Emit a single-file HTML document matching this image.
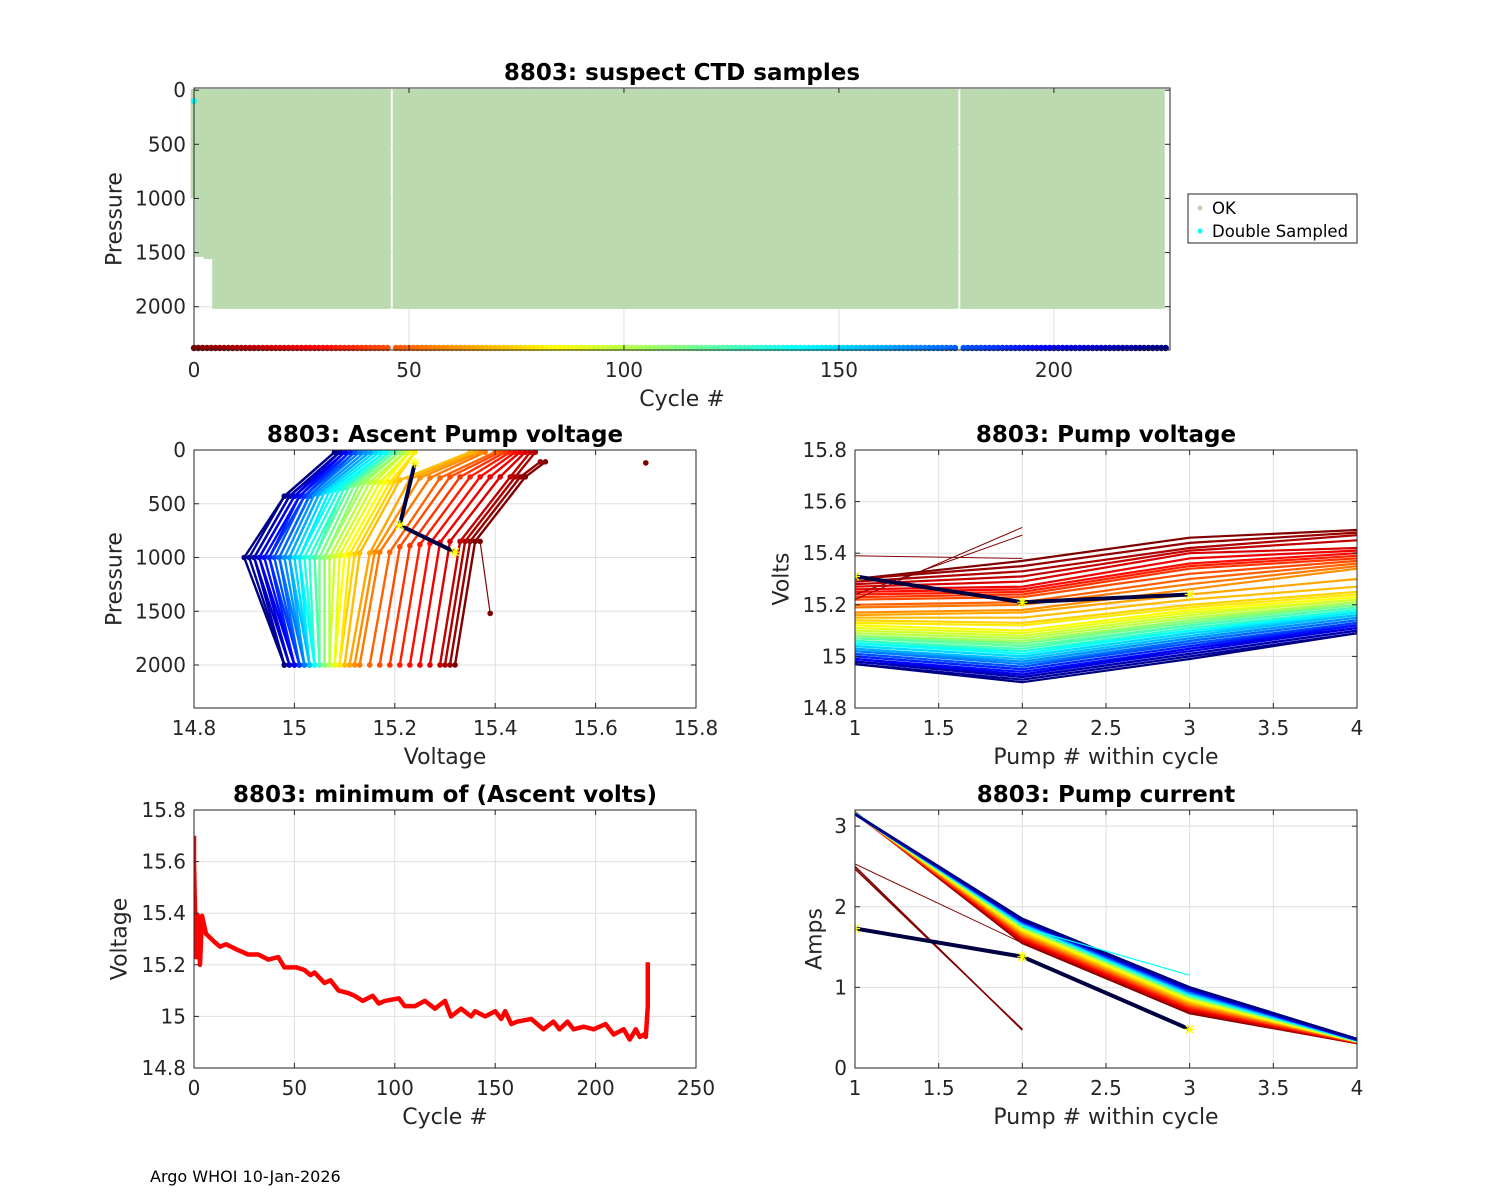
<!DOCTYPE html>
<html><head><meta charset="utf-8"><title>8803 pump diagnostics</title>
<style>
html,body{margin:0;padding:0;background:#fff;}
svg{display:block;font-family:"DejaVu Sans","Liberation Sans",sans-serif;}
</style></head>
<body>
<svg id="fig" width="1500" height="1200" viewBox="0 0 1500 1200" xmlns="http://www.w3.org/2000/svg">
<rect x="0" y="0" width="1500" height="1200" fill="#fff"/>
<defs>
<clipPath id="c1"><rect x="190" y="86" width="980" height="264"/></clipPath>
<clipPath id="c2"><rect x="194" y="450" width="502" height="258"/></clipPath>
<clipPath id="c3"><rect x="855" y="450" width="502" height="258"/></clipPath>
<clipPath id="c4"><rect x="194" y="810" width="502" height="258"/></clipPath>
<clipPath id="c5"><rect x="855" y="810" width="502" height="258"/></clipPath>
</defs>
<text x="150" y="1182" font-size="16" fill="#000">Argo WHOI 10-Jan-2026</text>
<g>
<rect x="1188" y="194" width="169" height="49" fill="#fff" stroke="#262626" stroke-width="1"/>
<circle cx="1200" cy="208" r="2.5" fill="rgb(188,218,176)"/>
<text x="1212" y="214" font-size="16.5" fill="#000">OK</text>
<circle cx="1200" cy="231" r="2.5" fill="#00ffff"/>
<text x="1212" y="237" font-size="16.5" fill="#000">Double Sampled</text>
</g>
</svg>
<script>
// ---------- DATA ----------
const totalCycles = 226;
const missingCycles = [46, 178];
const profileDepthCycles = [0, 1, 2, 3, 4];
const profileDepthValues = [1000, 1540, 1540, 1560, 1560];
const fullDepth = 2020;
const doubleSampledCycle = [0];
const doubleSampledPres = [100];

const sampleCycles = [0,5,10,15,20,25,30,35,40,45,50,55,60,65,70,75,80,85,90,95,100,105,110,115,120,125,130,135,140,145,150,155,160,165,170,175,180,185,190,195,200,205,210,215,220,225];
const asc_v2000 = [15.32,15.31,15.30,15.29,15.27,15.25,15.23,15.21,15.19,15.17, 15.15,15.13,15.12,15.11,15.10,15.09,15.09,15.08,15.08,15.07, 15.07,15.06,15.06,15.05,15.05,15.05,15.04,15.04,15.04,15.03, 15.03,15.03,15.02,15.02,15.02,15.01,15.01,15.01,15.00,15.00, 15.00,14.99,14.99,14.98,14.98,14.98];
const asc_vDeep = [15.36,15.35,15.34,15.33,15.31,15.29,15.27,15.25,15.23,15.21, 15.19,15.17,15.16,15.15,15.13,15.12,15.11,15.10,15.09,15.08, 15.07,15.06,15.06,15.05,15.04,15.04,15.03,15.02,15.01,15.01, 15.00,14.99,14.99,14.98,14.97,14.97,14.96,14.95,14.95,14.94, 14.93,14.93,14.92,14.92,14.91,14.90];
const asc_pDeep = [850,850,850,850,850,860,870,880,890,900, 950,950,950,960,960,970,970,980,980,990, 1000,1000,1000,1000,1000,1000,1000,1000,1000,1000, 1000,1000,1000,1000,1000,1000,1000,1000,1000,1000, 1000,1000,1000,1000,1000,1000];
const asc_vShallow = [15.46,15.45,15.44,15.43,15.41,15.39,15.37,15.35,15.33,15.31, 15.29,15.27,15.25,15.23,15.21,15.20,15.19,15.18,15.17,15.16, 15.15,15.14,15.13,15.12,15.11,15.10,15.10,15.09,15.08,15.07, 15.06,15.05,15.05,15.04,15.03,15.03,15.02,15.02,15.01,15.01, 15.00,15.00,14.99,14.99,14.98,14.98];
const asc_pShallow = [250,250,250,250,250,250,250,250,250,250, 260,260,260,270,280,290,300,300,300,300, 300,300,310,320,330,340,350,360,370,380, 390,400,400,410,420,430,430,430,430,430, 430,430,430,430,430,430];
const asc_vSurf = [15.50,15.49,15.48,15.47,15.46,15.45,15.44,15.43,15.42,15.41, 15.40,15.38,15.37,15.36,15.35,15.24,15.24,15.23,15.23,15.22, 15.22,15.21,15.21,15.20,15.20,15.19,15.19,15.18,15.18,15.17, 15.16,15.15,15.15,15.14,15.13,15.12,15.12,15.11,15.11,15.10, 15.10,15.09,15.09,15.09,15.08,15.08];
const asc_pSurf = [110,110,20,20,20,20,20,20,20,20, 20,20,20,20,20,20,20,20,20,20, 20,20,20,20,20,20,20,20,20,20, 20,20,20,20,20,20,20,20,20,20, 20,20,20,20,20,20];
const ascLastV = [15.24, 15.21, 15.32];
const ascLastP = [120, 700, 950];
const ascOddV = [15.37, 15.39];
const ascOddP = [850, 1520];
const ascOutlierV = [15.70];
const ascOutlierP = [120];

const pv1 = [15.30,15.30,15.29,15.28,15.27,15.26,15.25,15.24,15.23,15.22, 15.20,15.19,15.17,15.16,15.15,15.14,15.13,15.12,15.11,15.10, 15.09,15.08,15.08,15.07,15.07,15.06,15.06,15.05,15.05,15.04, 15.04,15.03,15.03,15.02,15.02,15.01,15.01,15.00,15.00,14.99, 14.99,14.98,14.98,14.98,14.97,14.97];
const pv2 = [15.37,15.35,15.33,15.31,15.29,15.27,15.26,15.25,15.24,15.23, 15.21,15.20,15.18,15.17,15.15,15.13,15.12,15.10,15.09,15.08, 15.07,15.06,15.05,15.05,15.04,15.03,15.02,15.02,15.01,15.00, 15.00,14.99,14.98,14.98,14.97,14.96,14.96,14.95,14.95,14.94, 14.93,14.93,14.92,14.92,14.91,14.90];
const pv3 = [15.46,15.44,15.42,15.41,15.40,15.38,15.36,15.35,15.34,15.32, 15.30,15.28,15.26,15.24,15.22,15.20,15.19,15.18,15.17,15.16, 15.15,15.14,15.14,15.13,15.12,15.12,15.11,15.10,15.10,15.09, 15.09,15.08,15.07,15.07,15.06,15.06,15.05,15.04,15.04,15.03, 15.03,15.02,15.01,15.01,15.00,14.99];
const pv4 = [15.49,15.48,15.47,15.45,15.42,15.41,15.40,15.39,15.38,15.37, 15.36,15.35,15.34,15.30,15.27,15.25,15.24,15.23,15.22,15.22, 15.21,15.21,15.20,15.20,15.19,15.19,15.18,15.18,15.17,15.17, 15.16,15.16,15.15,15.15,15.14,15.14,15.13,15.13,15.12,15.12, 15.11,15.11,15.10,15.10,15.09,15.09];
const pvLast = [15.31, 15.21, 15.24];
const pvEarlyA = [15.39, 15.38];
const pvEarlyB = [15.22, 15.50];
const pvEarlyC = [15.24, 15.47];

const pc1 = [3.17,3.17,3.17,3.17,3.16,3.16,3.16,3.16,3.16,3.16, 3.16,3.16,3.16,3.16,3.16,3.16,3.16,3.16,3.16,3.16, 3.16,3.16,3.16,3.16,3.16,3.16,3.15,3.15,3.15,3.15, 3.15,3.15,3.15,3.15,3.15,3.15,3.15,3.15,3.15,3.15, 3.15,3.15,3.15,3.15,3.15,3.15];
const pc2 = [1.55,1.56,1.57,1.58,1.59,1.60,1.61,1.62,1.63,1.64, 1.65,1.66,1.67,1.68,1.69,1.70,1.71,1.72,1.73,1.74, 1.75,1.75,1.76,1.76,1.77,1.77,1.78,1.78,1.79,1.79, 1.80,1.80,1.80,1.81,1.81,1.81,1.82,1.82,1.82,1.83, 1.83,1.83,1.84,1.84,1.84,1.85];
const pc3 = [0.68,0.69,0.70,0.71,0.72,0.73,0.74,0.75,0.76,0.77, 0.78,0.79,0.80,0.81,0.82,0.83,0.84,0.85,0.86,0.87, 0.88,0.88,0.89,0.89,0.90,0.90,0.91,0.91,0.92,0.92, 0.93,0.93,0.94,0.94,0.95,0.95,0.96,0.96,0.97,0.97, 0.98,0.98,0.99,0.99,1.00,1.00];
const pc4 = [0.31,0.31,0.31,0.31,0.32,0.32,0.32,0.32,0.32,0.32, 0.33,0.33,0.33,0.33,0.33,0.33,0.33,0.33,0.33,0.33, 0.34,0.34,0.34,0.34,0.34,0.34,0.34,0.34,0.34,0.34, 0.35,0.35,0.35,0.35,0.35,0.35,0.35,0.35,0.35,0.35, 0.35,0.35,0.36,0.36,0.36,0.36];
const pcLast = [1.73, 1.38, 0.48];
const pcEarlyA = [2.50, 0.47];
const pcEarlyB = [2.47, 0.48];
const pcEarlyC = [2.53, 1.55, 0.72];
const pcOddCyan = [1.75, 1.15];

const minCycles = [0,0,1,2,3,4,6,10,13,16, 21,27,32,37,42,45,51,55,58,60, 65,68,72,77,80,84,89,92,95,102, 105,110,115,120,125,128,133,138,140,145, 150,153,155,158,161,168,174,179,182,186, 189,194,199,205,209,214,217,220,222,224, 225,226,226];
const minVolts = [15.70,15.60,15.23,15.39,15.20,15.39,15.32,15.29,15.27,15.28, 15.26,15.24,15.24,15.22,15.23,15.19,15.19,15.18,15.16,15.17, 15.13,15.14,15.10,15.09,15.08,15.06,15.08,15.05,15.06,15.07, 15.04,15.04,15.06,15.03,15.06,15.00,15.03,15.00,15.02,15.00, 15.02,14.99,15.02,14.97,14.98,14.99,14.95,14.98,14.95,14.98, 14.95,14.96,14.95,14.97,14.93,14.95,14.91,14.95,14.92,14.93, 14.92,15.04,15.21];

const topXTicks = [0,50,100,150,200];
const presTicks = [0,500,1000,1500,2000];
const voltXTicks = [14.8,15,15.2,15.4,15.6,15.8];
const voltXLabels = ['14.8','15','15.2','15.4','15.6','15.8'];
const pumpXTicks = [1,1.5,2,2.5,3,3.5,4];
const pumpXLabels = ['1','1.5','2','2.5','3','3.5','4'];
const voltYTicks = [14.8,15,15.2,15.4,15.6,15.8];
const cycXTicks = [0,50,100,150,200,250];
const ampTicks = [0,1,2,3];

// ---------- HELPERS ----------
const NS = 'http://www.w3.org/2000/svg';
const svg = document.getElementById('fig');
function mk(tag, attrs, parent) {
  const e = document.createElementNS(NS, tag);
  for (const k in attrs) e.setAttribute(k, attrs[k]);
  (parent || svg).appendChild(e);
  return e;
}
function jet(t) {
  const cl = v => Math.max(0, Math.min(1, v));
  const r = cl(1.5 - Math.abs(4 * t - 3)), g = cl(1.5 - Math.abs(4 * t - 2)), b = cl(1.5 - Math.abs(4 * t - 1));
  return 'rgb(' + Math.round(r * 255) + ',' + Math.round(g * 255) + ',' + Math.round(b * 255) + ')';
}
function cycColor(c) { return jet(1 - c / totalCycles); }
function makeAxis(x0, x1, y0, y1, xmin, xmax, ymin, ymax, yrev) {
  return {
    x0, x1, y0, y1,
    sx: v => x0 + (v - xmin) / (xmax - xmin) * (x1 - x0),
    sy: v => yrev ? y0 + (v - ymin) / (ymax - ymin) * (y1 - y0) : y1 - (v - ymin) / (ymax - ymin) * (y1 - y0)
  };
}
function drawFrame(ax, xt, xl, yt, yl, grp) {
  for (const v of xt) {
    const x = ax.sx(v);
    const gl = mk('line', {x1: x, x2: x, y1: ax.y0, y2: ax.y1, stroke: '#dfdfdf', 'stroke-width': 1}, grp);
    
    
  }
  for (const v of yt) {
    const y = ax.sy(v);
    const gl = mk('line', {x1: ax.x0, x2: ax.x1, y1: y, y2: y, stroke: '#dfdfdf', 'stroke-width': 1}, grp);
    
    
  }
}
function drawBox(ax, xt, xl, yt, yl, title, xlab, ylab, ylabX, prefix) {
  const g = mk('g', {});
  
  
  const box = mk('rect', {x: ax.x0, y: ax.y0, width: ax.x1 - ax.x0, height: ax.y1 - ax.y0, fill: 'none', stroke: '#262626', 'stroke-width': 1}, g);
  
  
  xt.forEach((v, i) => {
    const x = ax.sx(v);
    mk('line', {x1: x, x2: x, y1: ax.y1, y2: ax.y1 - 5, stroke: '#262626'}, g);
    mk('line', {x1: x, x2: x, y1: ax.y0, y2: ax.y0 + 5, stroke: '#262626'}, g);
    const t = mk('text', {x: x, y: ax.y1 + 27, 'font-size': 20, fill: '#262626', 'text-anchor': 'middle'}, g);
    t.textContent = xl[i];
    
    
  });
  yt.forEach((v, i) => {
    const y = ax.sy(v);
    mk('line', {x1: ax.x0, x2: ax.x0 + 5, y1: y, y2: y, stroke: '#262626'}, g);
    mk('line', {x1: ax.x1, x2: ax.x1 - 5, y1: y, y2: y, stroke: '#262626'}, g);
    const t = mk('text', {x: ax.x0 - 8, y: y + 7, 'font-size': 20, fill: '#262626', 'text-anchor': 'end'}, g);
    t.textContent = yl[i];
    
    
  });
  const tt = mk('text', {x: (ax.x0 + ax.x1) / 2, y: ax.y0 - 8, 'font-size': 23, 'font-weight': 'bold', fill: '#000', 'text-anchor': 'middle'}, g);
  tt.textContent = title;
  
  
  const xlt = mk('text', {x: (ax.x0 + ax.x1) / 2, y: ax.y1 + 56, 'font-size': 22, fill: '#262626', 'text-anchor': 'middle'}, g);
  xlt.textContent = xlab;
  
  
  const cy = (ax.y0 + ax.y1) / 2;
  const ylt = mk('text', {x: ylabX, y: cy, 'font-size': 22, fill: '#262626', 'text-anchor': 'middle', transform: 'rotate(-90 ' + ylabX + ' ' + cy + ')', dy: '0.35em'}, g);
  ylt.textContent = ylab;
  
  
}
function poly(pts, attrs, grp, name) {
  const p = mk('polyline', Object.assign({points: pts.map(p => p[0].toFixed(1) + ',' + p[1].toFixed(1)).join(' '), fill: 'none', 'stroke-linejoin': 'round'}, attrs), grp);
  
  
  return p;
}
function star(x, y, grp) {
  const s = mk('path', {d: 'M' + (x - 5) + ' ' + y + 'h10M' + x + ' ' + (y - 5) + 'v10M' + (x - 4) + ' ' + (y - 4) + 'l8 8M' + (x - 4) + ' ' + (y + 4) + 'l8 -8', stroke: '#ffff00', 'stroke-width': 1.3, fill: 'none'}, grp);
  
  
}

// ---------- PANEL 1 ----------
const A1 = makeAxis(194, 1170, 88, 350, 0, 227, -20, 2400, true);
const g1 = mk('g', {'clip-path': 'url(#c1)'});


drawFrame(A1, topXTicks, null, presTicks, null, g1);
const half1 = (A1.sx(1) - A1.sx(0)) / 2;
for (let c = totalCycles - 1; c >= 0; c--) {
  if (missingCycles.includes(c)) continue;
  const k = profileDepthCycles.indexOf(c);
  const depth = k >= 0 ? profileDepthValues[k] : fullDepth;
  const r = mk('rect', {x: A1.sx(c) - half1 - 1.2, y: A1.sy(-10), width: 2 * half1 + 2.4, height: A1.sy(depth) - A1.sy(-10), fill: 'rgb(188,218,176)'}, g1);
  
  
}
doubleSampledCycle.forEach((c, i) => {
  const d = mk('circle', {cx: A1.sx(c), cy: A1.sy(doubleSampledPres[i]), r: 3, fill: '#00ffff'}, g1);
  
  
});
for (let c = 0; c <= totalCycles; c++) {
  if (missingCycles.includes(c)) continue;
  const d = mk('circle', {cx: A1.sx(c), cy: 348, r: 3.2, fill: cycColor(c)}, svg);
  
  
}
drawBox(A1, topXTicks, topXTicks.map(String), presTicks, presTicks.map(String), '8803: suspect CTD samples', 'Cycle #', 'Pressure', 114, 'ctd');

// ---------- PANEL 2 ----------
const A2 = makeAxis(194, 696, 450, 708, 14.8, 15.8, 0, 2400, true);
const g2 = mk('g', {'clip-path': 'url(#c2)'});


drawFrame(A2, voltXTicks, null, presTicks, null, g2);
sampleCycles.forEach((c, i) => {
  const col = cycColor(c);
  const pts = [[A2.sx(asc_v2000[i]), A2.sy(2000)], [A2.sx(asc_vDeep[i]), A2.sy(asc_pDeep[i])], [A2.sx(asc_vShallow[i]), A2.sy(asc_pShallow[i])], [A2.sx(asc_vSurf[i]), A2.sy(asc_pSurf[i])]];
  poly(pts, {stroke: col, 'stroke-width': 2.4}, g2, 'ascent-profile-line');
  pts.forEach(p => {
    const d = mk('circle', {cx: p[0], cy: p[1], r: 2.8, fill: col}, g2);
    
    
  });
});
poly(ascOddV.map((v, i) => [A2.sx(v), A2.sy(ascOddP[i])]), {stroke: '#800000', 'stroke-width': 1.2}, g2, 'ascent-odd-line');
ascOddV.forEach((v, i) => { const d = mk('circle', {cx: A2.sx(v), cy: A2.sy(ascOddP[i]), r: 2.8, fill: '#800000'}, g2);   });
ascOutlierV.forEach((v, i) => { const d = mk('circle', {cx: A2.sx(v), cy: A2.sy(ascOutlierP[i]), r: 2.8, fill: '#800000'}, g2);   });
poly(ascLastV.map((v, i) => [A2.sx(v), A2.sy(ascLastP[i])]), {stroke: '#000040', 'stroke-width': 4}, g2, 'ascent-last-cycle-line');
ascLastV.forEach((v, i) => star(A2.sx(v), A2.sy(ascLastP[i]), g2));
drawBox(A2, voltXTicks, voltXLabels, presTicks, presTicks.map(String), '8803: Ascent Pump voltage', 'Voltage', 'Pressure', 114, 'ascent');

// ---------- PANEL 3 ----------
const A3 = makeAxis(855, 1357, 450, 708, 1, 4, 14.8, 15.8, false);
const g3 = mk('g', {'clip-path': 'url(#c3)'});


drawFrame(A3, pumpXTicks, null, voltYTicks, null, g3);
poly(pvEarlyA.map((v, i) => [A3.sx(i + 1), A3.sy(v)]), {stroke: '#800000', 'stroke-width': 1}, g3, 'pump-voltage-early-line');
sampleCycles.forEach((c, i) => {
  const vals = [pv1[i], pv2[i], pv3[i], pv4[i]];
  poly(vals.map((v, k) => [A3.sx(k + 1), A3.sy(v)]), {stroke: cycColor(c), 'stroke-width': 2.2}, g3, 'pump-voltage-cycle-line');
});
poly(pvEarlyB.map((v, i) => [A3.sx(i + 1), A3.sy(v)]), {stroke: '#800000', 'stroke-width': 1}, g3, 'pump-voltage-early-line');
poly(pvEarlyC.map((v, i) => [A3.sx(i + 1), A3.sy(v)]), {stroke: '#800000', 'stroke-width': 1}, g3, 'pump-voltage-early-line');
poly(pvLast.map((v, i) => [A3.sx(i + 1), A3.sy(v)]), {stroke: '#000040', 'stroke-width': 4}, g3, 'pump-voltage-last-cycle-line');
pvLast.forEach((v, i) => star(A3.sx(i + 1), A3.sy(v), g3));
drawBox(A3, pumpXTicks, pumpXLabels, voltYTicks, voltXLabels, '8803: Pump voltage', 'Pump # within cycle', 'Volts', 781, 'pump-voltage');

// ---------- PANEL 4 ----------
const A4 = makeAxis(194, 696, 810, 1068, 0, 250, 14.8, 15.8, false);
const g4 = mk('g', {'clip-path': 'url(#c4)'});


drawFrame(A4, cycXTicks, null, voltYTicks, null, g4);
poly(minCycles.map((c, i) => [A4.sx(c), A4.sy(minVolts[i])]), {stroke: '#ff0000', 'stroke-width': 4.5}, g4, 'min-ascent-volts-line');
drawBox(A4, cycXTicks, cycXTicks.map(String), voltYTicks, voltXLabels, '8803: minimum of (Ascent volts)', 'Cycle #', 'Voltage', 119, 'min-volts');

// ---------- PANEL 5 ----------
const A5 = makeAxis(855, 1357, 810, 1068, 1, 4, 0, 3.2, false);
const g5 = mk('g', {'clip-path': 'url(#c5)'});


drawFrame(A5, pumpXTicks, null, ampTicks, null, g5);
poly(pcEarlyA.map((v, i) => [A5.sx(i + 1), A5.sy(v)]), {stroke: '#800000', 'stroke-width': 1.5}, g5, 'pump-current-early-line');
poly(pcEarlyB.map((v, i) => [A5.sx(i + 1), A5.sy(v)]), {stroke: '#800000', 'stroke-width': 1.5}, g5, 'pump-current-early-line');
poly(pcEarlyC.map((v, i) => [A5.sx(i + 1), A5.sy(v)]), {stroke: '#800000', 'stroke-width': 1}, g5, 'pump-current-early-line');
sampleCycles.forEach((c, i) => {
  const vals = [pc1[i], pc2[i], pc3[i], pc4[i]];
  poly(vals.map((v, k) => [A5.sx(k + 1), A5.sy(v)]), {stroke: cycColor(c), 'stroke-width': 2.5}, g5, 'pump-current-cycle-line');
});
poly(pcOddCyan.map((v, i) => [A5.sx(i + 2), A5.sy(v)]), {stroke: '#00ffff', 'stroke-width': 1.2}, g5, 'pump-current-odd-line');
poly(pcLast.map((v, i) => [A5.sx(i + 1), A5.sy(v)]), {stroke: '#000040', 'stroke-width': 4}, g5, 'pump-current-last-cycle-line');
pcLast.forEach((v, i) => star(A5.sx(i + 1), A5.sy(v), g5));
drawBox(A5, pumpXTicks, pumpXLabels, ampTicks, ampTicks.map(String), '8803: Pump current', 'Pump # within cycle', 'Amps', 814, 'pump-current');
</script>
</body></html>
